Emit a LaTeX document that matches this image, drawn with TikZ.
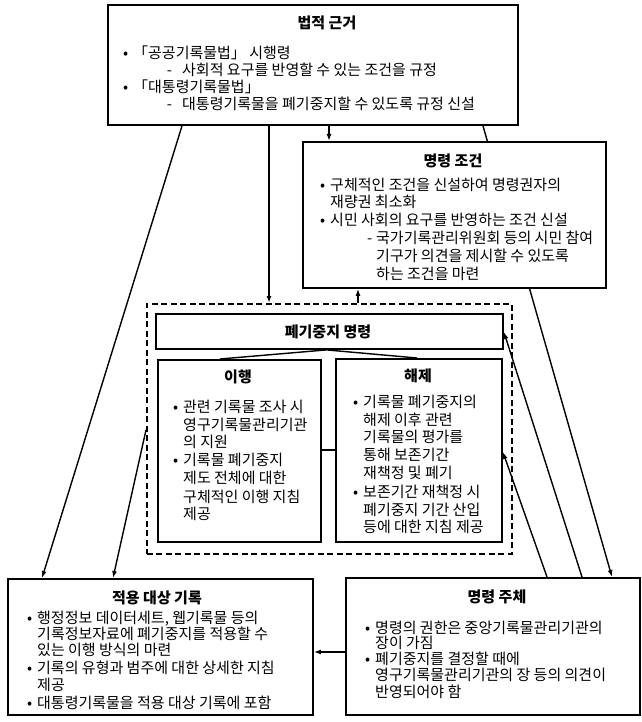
\documentclass[tikz,border=0pt]{standalone}
\usepackage{fontspec}
\newfontfamily\kr{Noto Sans CJK KR}
\usetikzlibrary{arrows.meta,backgrounds}
\newcommand\bu{\llap{•\hspace{5pt}}}
\newcommand\dsa{\llap{-\hspace{10pt}}}
\newcommand\dsb{\llap{-\hspace{4pt}}}
\tikzset{
  box/.style={draw, line width=1.9pt, fill=white, inner sep=0pt, anchor=north west},
  dbox/.style={draw, line width=1.9pt, dash pattern=on 6pt off 3.5pt, inner sep=0pt, anchor=north west},
  tx/.style={anchor=west, inner sep=0pt, text height=12.5pt, text depth=1.5pt, font=\kr\fontsize{15}{17}\selectfont},
  ttl/.style={inner sep=0pt, text height=12.5pt, text depth=1.5pt, font=\kr\bfseries\fontsize{15}{17}\selectfont},
  arr/.style={line width=1.4pt, -{Latex[length=7pt,width=5pt]}},
  ln/.style={line width=1.4pt}
}
\begin{document}
\begin{tikzpicture}[x=1pt,y=-1pt]
\useasboundingbox (0,0) rectangle (641,722);
% boxes
\node[box, minimum width=410pt, minimum height=120pt] (legal) at (107,4) {};
\node[box, minimum width=303pt, minimum height=146pt] (cond) at (302,141) {};
\node[dbox, minimum width=365pt, minimum height=250pt] (dash) at (146,303) {};
\node[box, minimum width=347pt, minimum height=35pt] (order) at (155,313) {};
\node[box, minimum width=163pt, minimum height=182pt] (impl) at (157,359) {};
\node[box, minimum width=166pt, minimum height=183pt] (lift) at (335,358) {};
\node[box, minimum width=305pt, minimum height=136pt] (apply) at (7,578) {};
\node[box, minimum width=294pt, minimum height=137pt] (subj) at (345,577) {};

% connectors
\begin{scope}[on background layer]
\draw[arr] ([xshift=376pt]legal.south west) -- ([xshift=267pt]subj.north west);
\end{scope}
\draw[arr] ([xshift=75pt]legal.south west) -- ([xshift=35pt]apply.north west);
\draw[arr] ([xshift=162pt]legal.south west) -- ([xshift=123pt]dash.north west);
\draw[arr] ([xshift=222pt]legal.south west) -- ([xshift=27pt]cond.north west);
\draw[arr] ([xshift=212pt]dash.north west) -- ([xshift=56pt]cond.south west);
\draw[arr] ([xshift=237pt]subj.north west) -- ([yshift=-19pt]order.north east);
\draw[arr] ([xshift=202pt]subj.north west) -- ([yshift=-94pt]lift.north east);
\draw[arr] ([yshift=-127pt]dash.north west) -- ([xshift=106pt]apply.north west);
\coordinate (sl) at ([yshift=-75pt]subj.north west);
\draw[arr] (sl) -- (sl -| apply.east);
\draw[ln] ([xshift=-3pt]order.south) -- ([xshift=63pt]impl.north west);
\draw[ln] ([xshift=-3pt]order.south) -- ([xshift=82pt]lift.north west);
\draw[ln] ([yshift=-91pt]impl.north east) -- ([yshift=-92pt]lift.north west);

% legal
\node[ttl] (t1) at (327,23) {법적 근거};
\node[tx] (l1) at (133,53) {\bu「공공기록물법」 시행령};
\node[tx] (l2) at (182,70) {\dsa 사회적 요구를 반영할 수 있는 조건을 규정};
\node[tx] (l3) at (133,87) {\bu「대통령기록물법」};
\node[tx] (l4) at (182,104) {\dsa 대통령기록물을 폐기중지할 수 있도록 규정 신설};

% cond
\node[ttl] (t2) at (453,161) {명령 조건};
\node[tx] (c1) at (330,185) {\bu 구체적인 조건을 신설하여 명령권자의};
\node[tx] (c2) at (330,202) {재량권 최소화};
\node[tx] (c3) at (330,220) {\bu 시민 사회의 요구를 반영하는 조건 신설};
\node[tx] (c4) at (376,238) {\dsb 국가기록관리위원회 등의 시민 참여};
\node[tx] (c5) at (376,256) {기구가 의견을 제시할 수 있도록};
\node[tx] (c6) at (376,274) {하는 조건을 마련};

% order
\node[ttl] (t3) at (328,332) {폐기중지 명령};

% impl
\node[ttl] (t4) at (238,377) {이행};
\node[tx] (i1) at (183,407) {\bu 관련 기록물 조사 시};
\node[tx] (i2) at (183,425) {영구기록물관리기관};
\node[tx] (i3) at (183,442) {의 지원};
\node[tx] (i4) at (183,460) {\bu 기록물 폐기중지};
\node[tx] (i5) at (183,478) {제도 전체에 대한};
\node[tx] (i6) at (183,497) {구체적인 이행 지침};
\node[tx] (i7) at (183,514) {제공};

% lift
\node[ttl] (t5) at (418,376) {해제};
\node[tx] (h1) at (363,402) {\bu 기록물 폐기중지의};
\node[tx] (h2) at (363,420) {해제 이후 관련};
\node[tx] (h3) at (363,437) {기록물의 평가를};
\node[tx] (h4) at (363,455) {통해 보존기간};
\node[tx] (h5) at (363,473) {재책정 및 폐기};
\node[tx] (h6) at (363,492) {\bu 보존기간 재책정 시};
\node[tx] (h7) at (363,510) {폐기중지 기간 산입};
\node[tx] (h8) at (363,527) {등에 대한 지침 제공};

% apply
\node[ttl] (t6) at (157,598) {적용 대상 기록};
\node[tx] (a1) at (37,618) {\bu 행정정보 데이터세트, 웹기록물 등의};
\node[tx] (a2) at (37,634) {기록정보자료에 폐기중지를 적용할 수};
\node[tx] (a3) at (37,650) {있는 이행 방식의 마련};
\node[tx] (a4) at (37,668) {\bu 기록의 유형과 범주에 대한 상세한 지침};
\node[tx] (a5) at (37,685) {제공};
\node[tx] (a6) at (37,703) {\bu 대통령기록물을 적용 대상 기록에 포함};

% subject
\node[ttl] (t7) at (497,597) {명령 주체};
\node[tx] (s1) at (375,628) {\bu 명령의 권한은 중앙기록물관리기관의};
\node[tx] (s2) at (375,643) {장이 가짐};
\node[tx] (s3) at (375,659) {\bu 폐기중지를 결정할 때에};
\node[tx] (s4) at (375,675) {영구기록물관리기관의 장 등의 의견이};
\node[tx] (s5) at (375,692) {반영되어야 함};
\end{tikzpicture}
\end{document}
